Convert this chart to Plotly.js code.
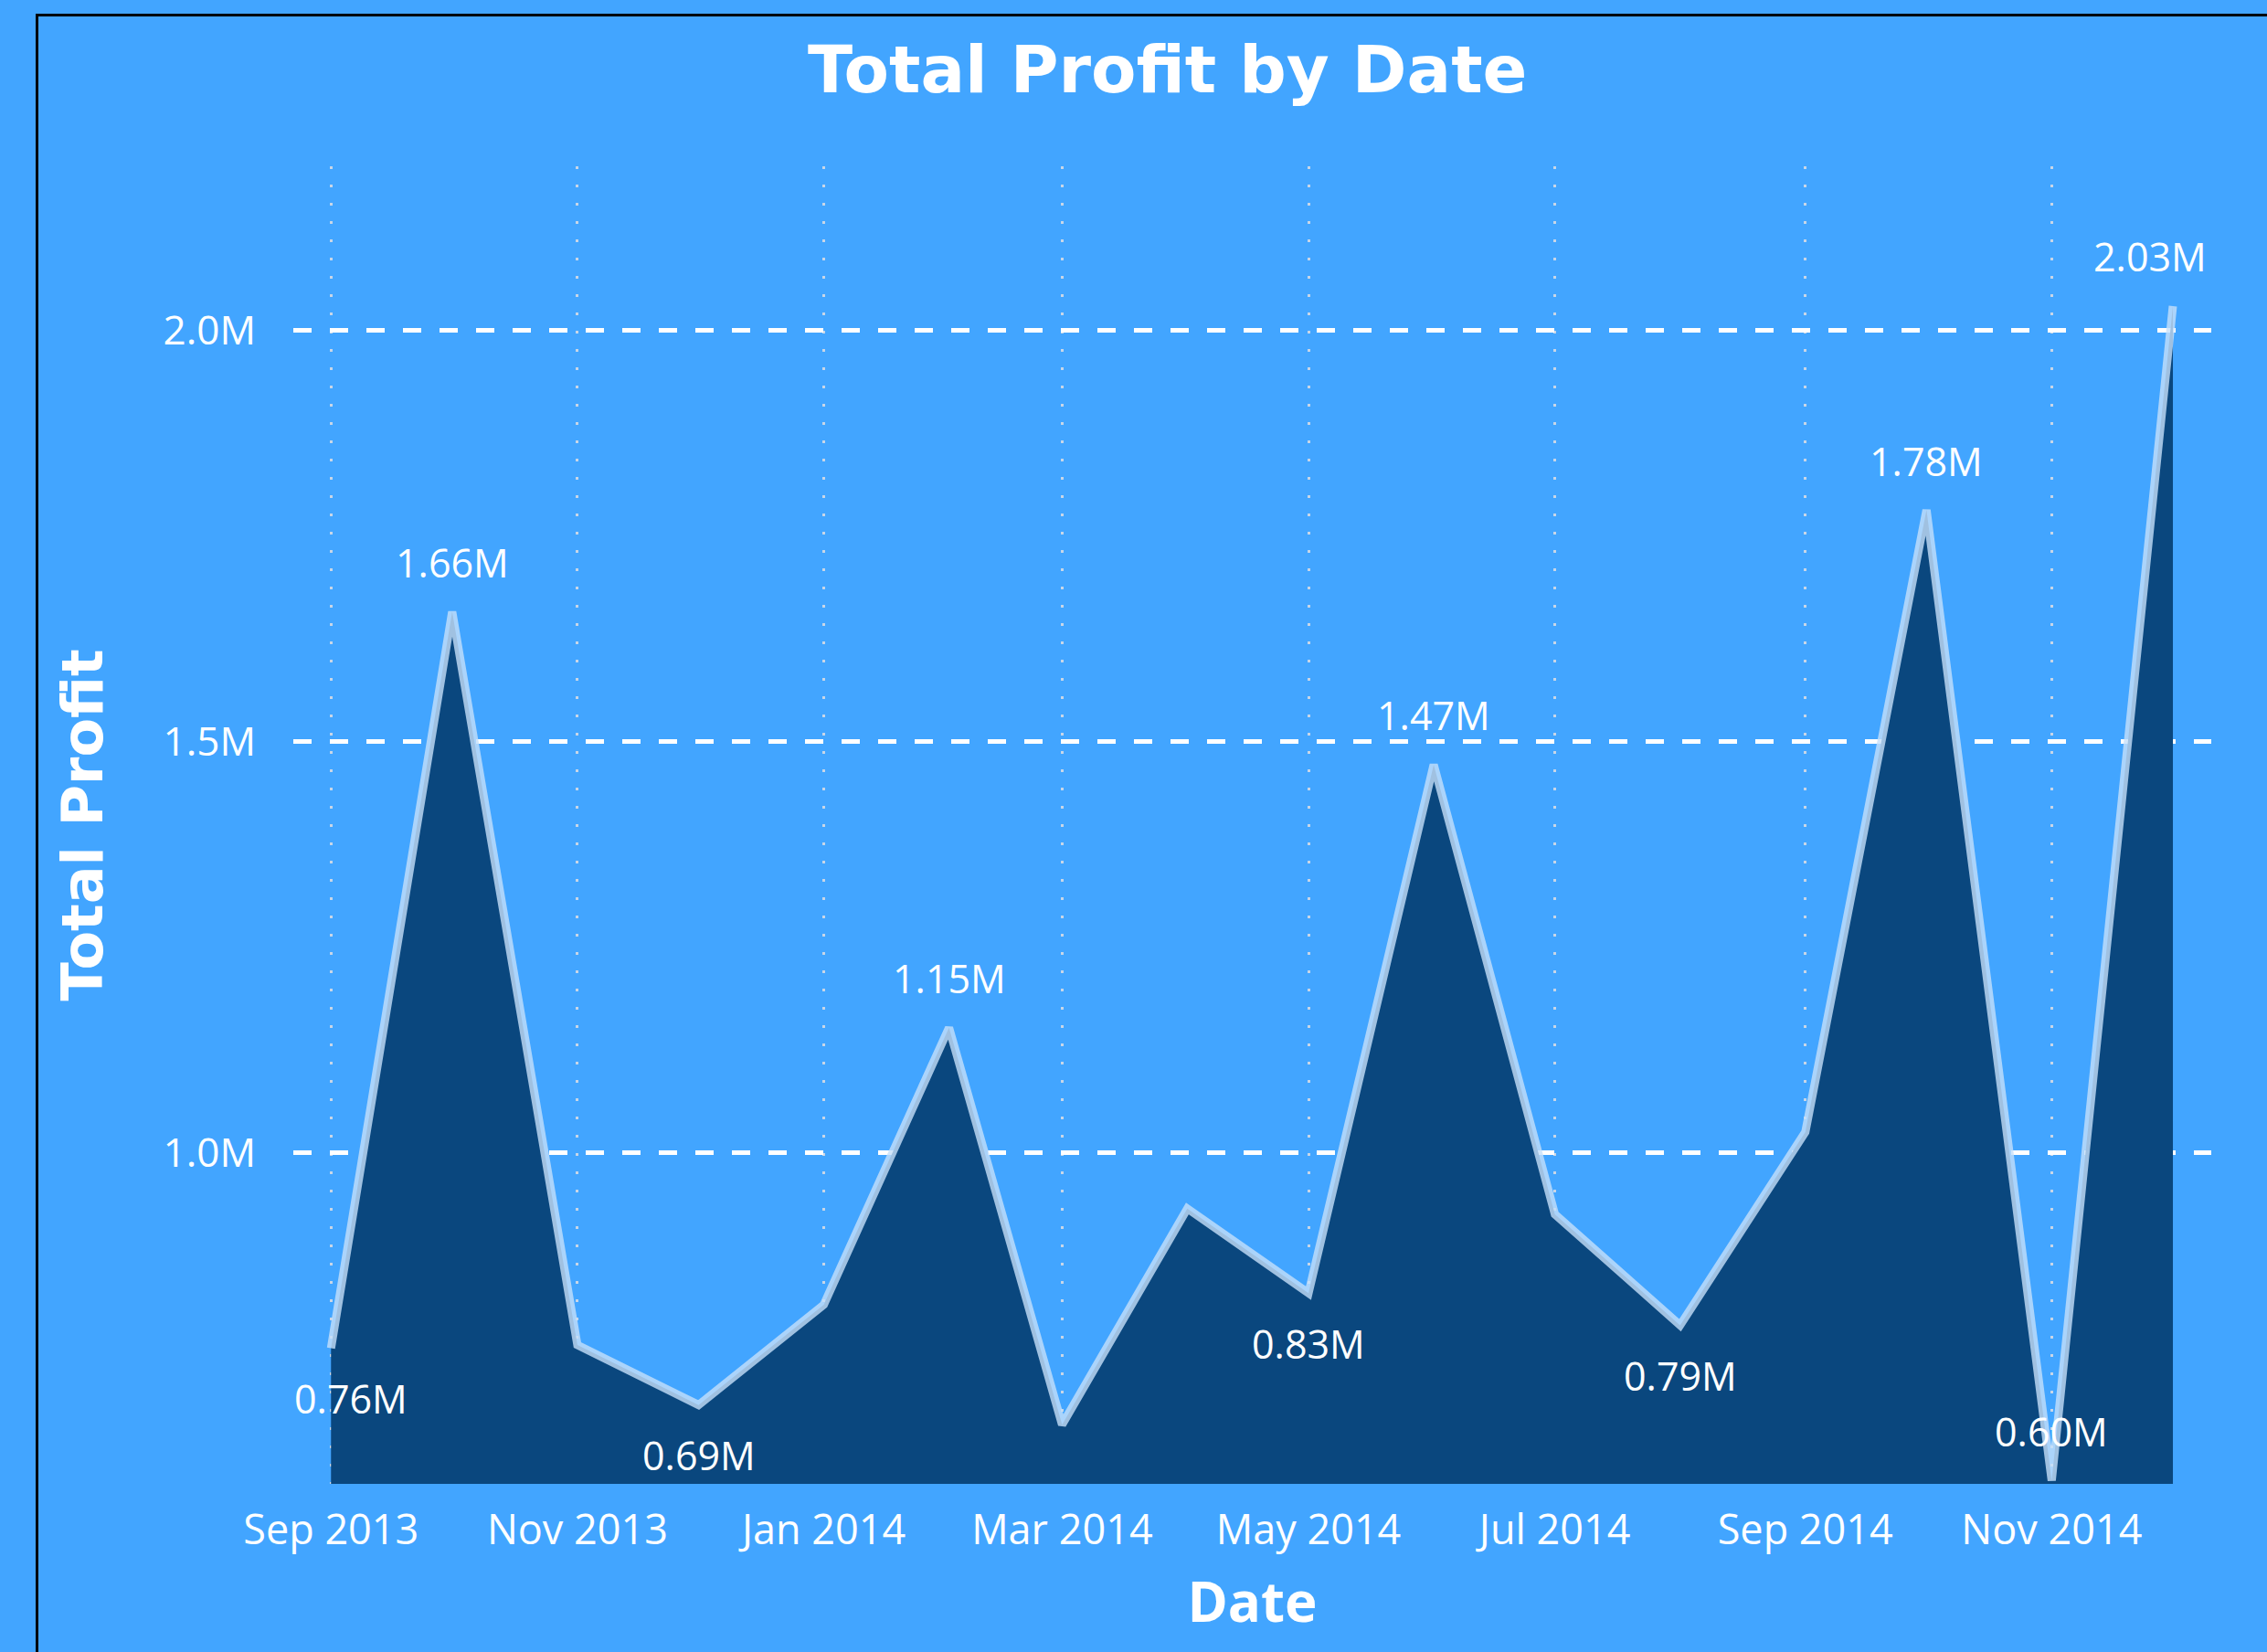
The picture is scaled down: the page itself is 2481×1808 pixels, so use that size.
<!DOCTYPE html>
<html>
<head>
<meta charset="utf-8">
<script src="https://cdn.plot.ly/plotly-3.0.1.min.js"></script>
<style>
  html, body { margin:0; padding:0; background:#42A5FF; }
  #chart { width:2481px; height:1808px; }
  #frame { position:absolute; left:39px; top:15px; width:3000px; height:3000px;
           border-left:3px solid #000; border-top:3px solid #000; pointer-events:none; }
</style>
</head>
<body>
<div id="chart"></div>
<div id="frame"></div>
<script>
// Monthly total profit, in millions
var months = ['2013-09-01','2013-10-01','2013-11-01','2013-12-01','2014-01-01','2014-02-01',
              '2014-03-01','2014-04-01','2014-05-01','2014-06-01','2014-07-01','2014-08-01',
              '2014-09-01','2014-10-01','2014-11-01','2014-12-01'];
var profit = [0.762, 1.658, 0.766, 0.693, 0.815, 1.152, 0.669, 0.932, 0.829, 1.472,
              0.925, 0.790, 1.025, 1.782, 0.601, 2.030];
// which points carry a data label, and on which side
var labelIdx = [0, 1, 3, 5, 8, 9, 11, 13, 14, 15];
var labelSide = ['below','above','below','above','below','above','below','above','above','above'];
var labelXShift = [22, 0, 0, 0, 0, 0, 0, 0, 0, -25];

var yTickVals = [1.0, 1.5, 2.0];
var yTickText = ['1.0M', '1.5M', '2.0M'];

var labelFont = {family:'Open Sans, sans-serif', size:43, color:'#ffffff'};

var annotations = labelIdx.map(function(i, k){
  return {
    x: months[i], y: profit[i], xref:'x', yref:'y',
    text: profit[i].toFixed(2) + 'M',
    showarrow:false, xanchor:'center', yanchor:'middle',
    yshift: labelSide[k] === 'above' ? 54 : -55,
    xshift: labelXShift[k],
    font: labelFont
  };
});

var trace = {
  type:'scatter', mode:'lines',
  x: months, y: profit,
  fill:'tozeroy', fillcolor:'#0A477E',
  line:{color:'rgba(198,224,250,0.8)', width:9},
  hoverinfo:'x+y'
};

var layout = {
  width:2481, height:1808,
  paper_bgcolor:'#42A5FF', plot_bgcolor:'rgba(0,0,0,0)',
  margin:{l:321, r:61, t:182, b:184},
  showlegend:false,
  title:{
    text:'<b>Total Profit by Date</b>',
    font:{family:'DejaVu Sans, sans-serif', size:72, color:'#ffffff'},
    x:0.515, xref:'container', xanchor:'center',
    y:0.958, yref:'container', yanchor:'middle'
  },
  xaxis:{
    type:'date',
    range:['2013-08-22 16:00','2014-12-10 12:00'],
    tick0:'2013-09-01', dtick:'M2', tickformat:'%b %Y',
    showgrid:true, gridcolor:'rgba(215,220,228,0.9)', gridwidth:3, griddash:'3px,17px',
    zeroline:false, showline:false, ticks:'',
    ticklabelstandoff:20,
    tickfont:{family:'Open Sans, sans-serif', size:45, color:'#ffffff'},
    title:{text:'<b>Date</b>', standoff:30,
           font:{family:'Open Sans, sans-serif', size:60, color:'#ffffff'}},
    fixedrange:true
  },
  yaxis:{
    range:[0.597, 2.2],
    tickmode:'array', tickvals: yTickVals, ticktext: yTickText,
    showgrid:true, gridcolor:'#ffffff', gridwidth:5, griddash:'20px,20px',
    zeroline:false, showline:false, ticks:'',
    ticklabelstandoff:40,
    tickfont:{family:'Open Sans, sans-serif', size:44, color:'#ffffff'},
    title:{text:'<b>Total Profit</b>', standoff:45,
           font:{family:'DejaVu Sans, sans-serif', size:62, color:'#ffffff'}},
    fixedrange:true
  },
  annotations: annotations
};

Plotly.newPlot('chart', [trace], layout, {displayModeBar:false, staticPlot:true});
</script>
</body>
</html>
